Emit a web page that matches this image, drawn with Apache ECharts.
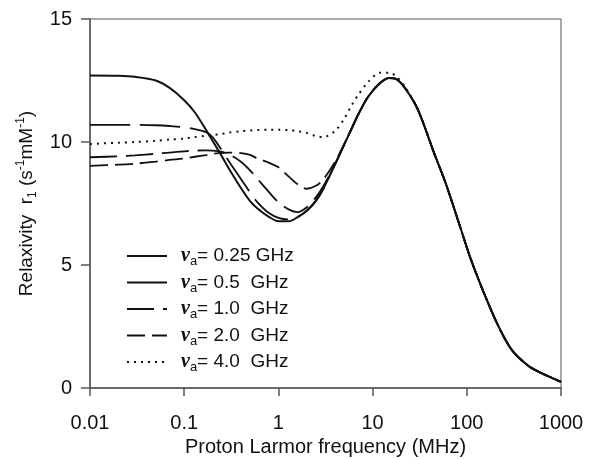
<!DOCTYPE html>
<html><head><meta charset="utf-8">
<script src="https://cdn.jsdelivr.net/npm/echarts@6/dist/echarts.min.js"></script>
<style>html,body{margin:0;padding:0;background:#fff}#c{width:590px;height:459px}</style>
</head><body><div id="c"></div>
<script>
// Proton Larmor frequency (MHz)
const freq = [0.01,0.02,0.03,0.05,0.07,0.1,0.13,0.17,0.2,0.25,0.3,0.4,0.5,0.6,0.8,1,1.3,1.6,2,2.5,3,4,5,6,7,9,12,15,18,22,30,45,60,85,110,150,210,300,450,600,800,1000];
// Relaxivity r1 for each nu_a
const r_025 = [12.7,12.69,12.65,12.5,12.2,11.7,11.2,10.5,10.05,9.43,8.9,8.13,7.6,7.3,6.95,6.78,6.78,6.95,7.2,7.6,8.1,9.1,9.9,10.55,11.1,11.85,12.4,12.6,12.55,12.2,11.35,9.55,8.3,6.55,5.25,3.92,2.62,1.55,0.9,0.63,0.41,0.25];
const r_05  = [10.7,10.7,10.7,10.68,10.65,10.6,10.52,10.4,10.2,9.67,9.2,8.5,7.95,7.55,7.1,6.92,6.85,6.95,7.22,7.62,8.1,9.1,9.9,10.55,11.1,11.85,12.4,12.6,12.55,12.2,11.35,9.55,8.3,6.55,5.25,3.92,2.62,1.55,0.9,0.63,0.41,0.25];
const r_10  = [9.38,9.42,9.46,9.52,9.57,9.62,9.65,9.66,9.65,9.6,9.5,9.2,8.85,8.5,7.95,7.55,7.25,7.15,7.35,7.75,8.2,9.1,9.9,10.55,11.1,11.85,12.4,12.6,12.55,12.2,11.35,9.55,8.3,6.55,5.25,3.92,2.62,1.55,0.9,0.63,0.41,0.25];
const r_20  = [9.03,9.08,9.12,9.2,9.27,9.33,9.4,9.47,9.52,9.55,9.57,9.55,9.48,9.33,9.15,8.97,8.58,8.28,8.1,8.22,8.48,9.2,9.92,10.55,11.1,11.85,12.4,12.6,12.55,12.2,11.35,9.55,8.3,6.55,5.25,3.92,2.62,1.55,0.9,0.63,0.41,0.25];
const r_40  = [9.92,9.97,10.0,10.05,10.1,10.14,10.2,10.25,10.28,10.33,10.38,10.44,10.47,10.49,10.5,10.5,10.48,10.44,10.37,10.24,10.2,10.45,10.95,11.5,11.9,12.45,12.82,12.82,12.65,12.25,11.35,9.55,8.3,6.55,5.25,3.92,2.62,1.55,0.9,0.63,0.41,0.25];
const seriesNames = ['0.25 GHz','0.5  GHz','1.0  GHz','2.0  GHz','4.0  GHz'];
const xTicks = ['0.01','0.1','1','10','100','1000'];
const yTicks = [0,5,10,15];

const values = [r_025, r_05, r_10, r_20, r_40];
const dashes = ['solid', [40,10], [27,9], [18,7], [2,5]];
const widths = [2, 1.8, 1.8, 1.8, 2];

const chart = echarts.init(document.getElementById('c'));
const font = 'Liberation Sans, Arial, sans-serif';
chart.setOption({
  animation: false,
  backgroundColor: '#fff',
  grid: {left: 90, right: 29, top: 19, bottom: 71, show: true, borderColor: '#555', borderWidth: 1,
         containLabel: false, outerBoundsMode: 'none'},
  legend: {
    orient: 'vertical', left: 121, top: 241, itemWidth: 40, itemHeight: 14, itemGap: 4.5,
    selectedMode: false,
    itemStyle: {opacity: 0},
    data: seriesNames,
    formatter: n => '{nu|ν}{sub|a}{t|= ' + n + '}',
    textStyle: {
      rich: {
        nu: {fontFamily: 'Liberation Serif', fontStyle: 'italic', fontWeight: 'bold', fontSize: 20, color: '#111', padding: [0,0,0,9], lineHeight: 24},
        sub: {fontFamily: font, fontSize: 13, color: '#111', verticalAlign: 'bottom', lineHeight: 14},
        t: {fontFamily: font, fontSize: 19, color: '#111', lineHeight: 24, whiteSpace: 'pre'}
      }
    }
  },
  xAxis: {
    type: 'log', logBase: 10, min: 0.01, max: 1000,
    name: 'Proton Larmor frequency (MHz)', nameLocation: 'middle', nameGap: 48,
    nameTextStyle: {fontFamily: font, fontSize: 20, color: '#111'},
    axisLine: {lineStyle: {color: '#555', width: 1.5}},
    axisTick: {inside: false, length: 8, lineStyle: {color: '#555', width: 1.5}},
    axisLabel: {margin: 25, fontFamily: font, fontSize: 20, color: '#111',
      formatter: v => { const s = String(+(+v).toPrecision(6)); return xTicks.indexOf(s) >= 0 ? s : ''; }},
    splitLine: {show: false}, minorTick: {show: false}
  },
  yAxis: {
    type: 'value', min: yTicks[0], max: yTicks[yTicks.length-1], interval: 5,
    name: '{m|Relaxivity  r}{sub|1}{m| (s}{sup|-1}{m|mM}{sup|-1}{m|)}',
    nameLocation: 'middle', nameGap: 50,
    nameTextStyle: {
      rich: {
        m: {fontFamily: font, fontSize: 19, color: '#111', lineHeight: 24},
        sub: {fontFamily: font, fontSize: 12, color: '#111', verticalAlign: 'bottom', lineHeight: 12},
        sup: {fontFamily: font, fontSize: 12, color: '#111', verticalAlign: 'top', lineHeight: 14}
      }
    },
    axisLine: {show: true, lineStyle: {color: '#555', width: 1.5}},
    axisTick: {show: true, inside: false, length: 9, lineStyle: {color: '#555', width: 1.5}},
    axisLabel: {margin: 18, fontFamily: font, fontSize: 20, color: '#111'},
    splitLine: {show: false}
  },
  series: seriesNames.map((n, k) => ({
    name: n, type: 'line', symbol: 'none', smooth: 0.3,
    lineStyle: {color: '#111', width: widths[k], type: dashes[k], cap: 'butt'},
    itemStyle: {color: '#111'},
    data: freq.map((f, i) => [f, values[k][i]])
  }))
});
</script></body></html>
